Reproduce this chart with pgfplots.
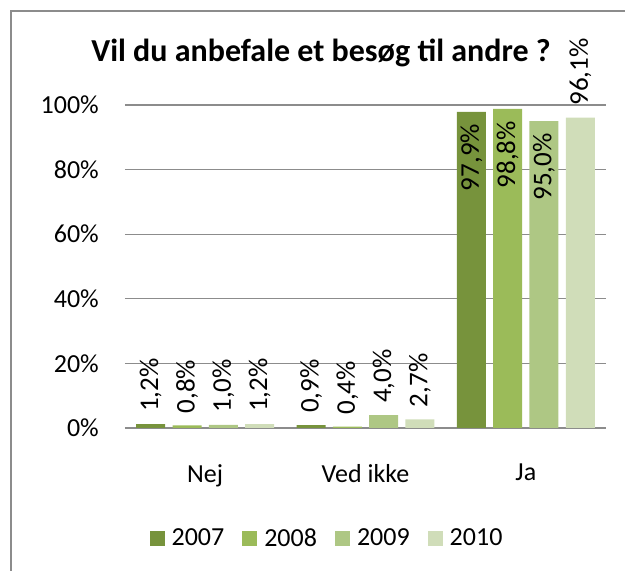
\documentclass[border=0pt]{standalone}
\usepackage{fontspec}
\setmainfont{Carlito}
\usepackage{pgfplots}
\usepackage{pgfplotstable}
\pgfplotsset{compat=1.18}

\definecolor{c07}{HTML}{77933C}
\definecolor{c08}{HTML}{9BBB59}
\definecolor{c09}{HTML}{AEC784}
\definecolor{c10}{HTML}{D0DDB9}
\definecolor{gridgray}{RGB}{140,140,140}

% x: 0 = Nej, 1 = Ved ikke, 2 = Ja
\pgfplotstableread{
x y
0 1.2
1 0.9
2 97.9
}\dA
\pgfplotstableread{
x y
0 0.8
1 0.4
2 98.8
}\dB
\pgfplotstableread{
x y
0 1.0
1 4.0
2 95.0
}\dC
\pgfplotstableread{
x y
0 1.2
1 2.7
2 96.1
}\dD

% labels of tall bars go inside the bar
\pgfplotsset{inlbl/.style={
    visualization depends on={rawy \as \ry},
    every node near coord/.append style={
        /utils/exec={\pgfmathsetmacro\tmp{\ry>50}%
            \ifdim\tmp pt>0.5pt \def\anc{east}\else\def\anc{west}\fi},
        anchor=\anc}}}

\begin{document}
\begin{tikzpicture}
\useasboundingbox (0,0) rectangle (625pt,571pt);
% chart frame (cut at right and bottom)
\draw[gridgray, line width=1.3pt] (11pt,-20pt) -- (11pt,560pt) -- (660pt,560pt);
\node[font=\bfseries\fontsize{32}{38}\selectfont, anchor=base, inner sep=0pt]
  at (321pt,509pt) {Vil du anbefale et besøg til andre ?};
\begin{axis}[
    at={(125pt,143pt)}, anchor=south west,
    scale only axis, width=481pt, height=323pt,
    ybar=7.3pt, bar width=29pt,
    xmin=-0.5, xmax=2.5, ymin=0, ymax=100,
    xtick=data, xticklabels={Nej, Ved ikke, Ja},
    ytick={0,20,...,100},
    yticklabel={\pgfmathprintnumber{\tick}\%},
    /pgf/number format/assume math mode=true,
    axis line style={draw=none},
    ymajorgrids, major grid style={gridgray, line width=1.3pt},
    xtick style={draw=none},
    ytick style={draw=none},
    tick align=outside, major tick length=6pt,
    ticklabel style={font=\fontsize{26}{30}\selectfont},
    yticklabel style={inner sep=0pt, xshift=-20pt},
    xticklabel style={anchor=north, inner sep=0pt, yshift=-30pt},
    clip=false,
    nodes near coords={\pgfmathprintnumber[fixed,fixed zerofill,precision=1,use comma]{\pgfplotspointmeta}\%},
    every node near coord/.append style={rotate=90, anchor=west,
        font=\fontsize{27}{31}\selectfont, inner xsep=12pt, inner ysep=0pt, text=black},
    legend image code/.code={\fill[#1] (0pt,-7.5pt) rectangle (15pt,7.5pt); \path (20pt,0pt);},
    legend style={at={(0.42,-0.3406)}, anchor=center, draw=none, legend columns=4,
        font=\fontsize{26}{30}\selectfont,
        /tikz/every even column/.append style={column sep=16pt}},
]
\addplot[fill=c07, draw=none, inlbl] table[x=x, y=y] {\dA};
\addplot[fill=c08, draw=none, inlbl] table[x=x, y=y] {\dB};
\addplot[fill=c09, draw=none, inlbl] table[x=x, y=y] {\dC};
\addplot[fill=c10, draw=none] table[x=x, y=y] {\dD};
\legend{2007, 2008, 2009, 2010}
\end{axis}
\end{tikzpicture}
\end{document}
